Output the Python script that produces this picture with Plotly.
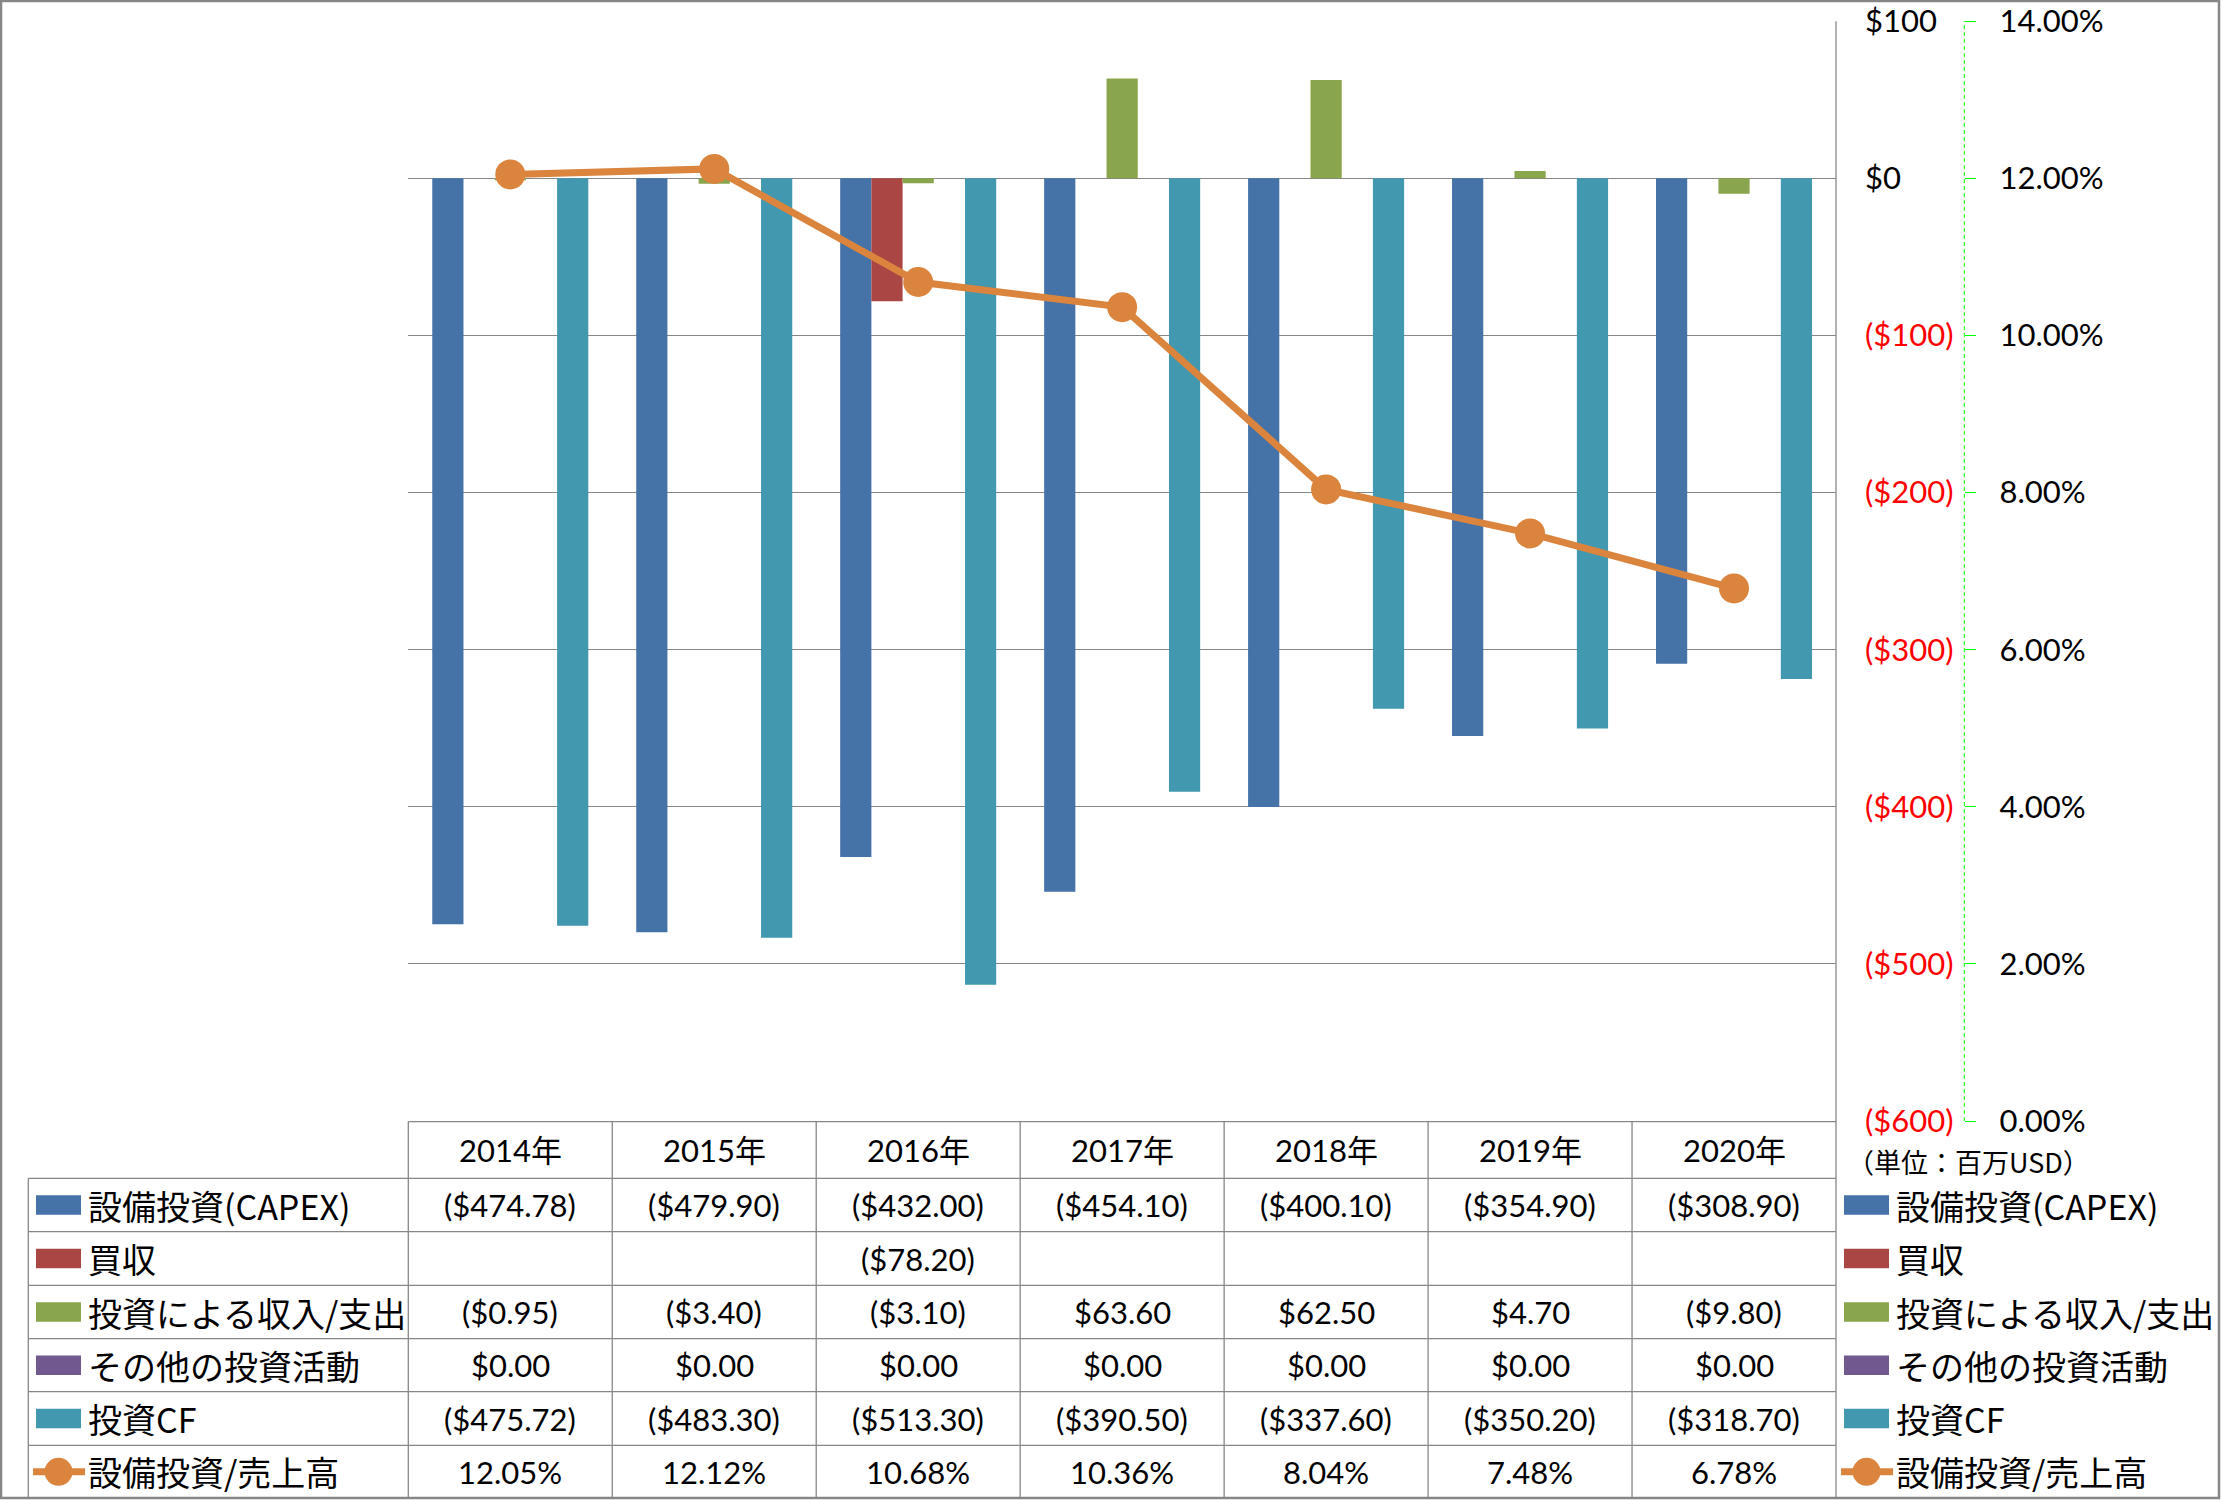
import plotly.graph_objects as go

# ---------------- data ----------------
years = ["2014年", "2015年", "2016年", "2017年", "2018年", "2019年", "2020年"]
capex = [-474.78, -479.90, -432.00, -454.10, -400.10, -354.90, -308.90]
acquisition = [None, None, -78.20, None, None, None, None]
invest_income = [-0.95, -3.40, -3.10, 63.60, 62.50, 4.70, -9.80]
other_invest = [0.00, 0.00, 0.00, 0.00, 0.00, 0.00, 0.00]
invest_cf = [-475.72, -483.30, -513.30, -390.50, -337.60, -350.20, -318.70]
capex_ratio = [12.05, 12.12, 10.68, 10.36, 8.04, 7.48, 6.78]  # percent

bar_names = ["設備投資(CAPEX)", "買収", "投資による収入/支出", "その他の投資活動", "投資CF"]
line_name = "設備投資/売上高"
usd_ticks = [100, 0, -100, -200, -300, -400, -500, -600]
pct_ticks = [0, 2, 4, 6, 8, 10, 12, 14]
unit_label = "（単位：百万USD）"

# ---------------- styles ----------------
W, H = 2221, 1500
BAR_COLORS = ["#4572A7", "#AA4643", "#89A54E", "#71588F", "#4198AF"]
LINE_COLOR = "#DB843D"
GRID = "#878787"
NUM_FONT = "Lato, 'Noto Sans CJK JP', sans-serif"
JP_FONT = "'Noto Sans CJK JP', sans-serif"
NUM_SIZE = 31
JP_SIZE = 34


def fx(px):
    return px / W


def fy(py):
    return 1 - py / H


def money(v):
    if v is None:
        return ""
    if v < 0:
        return "(${:,.2f})".format(abs(v))
    return "${:,.2f}".format(v)


def money_tick(v):
    if v < 0:
        return '<span style="color:#FF0000">(${:.0f})</span>'.format(abs(v))
    return "${:.0f}".format(v)


bar_series = [capex, acquisition, invest_income, other_invest, invest_cf]

fig = go.Figure()
for name, vals, col in zip(bar_names, bar_series, BAR_COLORS):
    fig.add_trace(go.Bar(x=years, y=vals, name=name, marker=dict(color=col, line=dict(width=0)),
                         showlegend=False))
fig.add_trace(go.Scatter(x=years, y=capex_ratio, name=line_name, yaxis="y2", mode="lines+markers",
                         line=dict(color=LINE_COLOR, width=7),
                         marker=dict(size=30, color=LINE_COLOR), showlegend=False))

# geometry (pixels)
PLOT_L, PLOT_R = 408.3, 1836.0
PLOT_T, PLOT_B = 21.2, 1121.0
AXIS_X = 1964.3
ROW_Y = [1121.7, 1178.3, 1231.7, 1285.3, 1338.7, 1391.7, 1445.3, 1498.3]
LABEL_L = 28.3

fig.update_layout(
    width=W, height=H,
    margin=dict(l=0, r=0, t=0, b=0, pad=0, autoexpand=False),
    paper_bgcolor="white", plot_bgcolor="white",
    barmode="group", bargap=0.235, bargroupgap=0,
    xaxis=dict(domain=[fx(PLOT_L), fx(PLOT_R)], showticklabels=False, showgrid=False,
               showline=False, ticks="", zeroline=False, fixedrange=True, automargin=False),
    yaxis=dict(domain=[fy(PLOT_B), fy(PLOT_T)], range=[-600, 100],
               tickvals=usd_ticks, ticktext=[money_tick(v) for v in usd_ticks],
               anchor="free", position=fx(PLOT_R), side="right", automargin=False,
               showgrid=True, gridcolor=GRID, gridwidth=1.2, zeroline=False,
               showline=False, ticks="", ticklabelstandoff=28,
               tickfont=dict(family=NUM_FONT, size=NUM_SIZE, color="black")),
    yaxis2=dict(overlaying="y", range=[0, 14], tickvals=pct_ticks,
                ticktext=["{:.2f}%".format(v) for v in pct_ticks],
                anchor="free", position=fx(AXIS_X), side="right", automargin=False,
                showgrid=False, zeroline=False, showline=False,
                ticks="outside", ticklen=11, tickwidth=1, tickcolor="#00FF00",
                ticklabelstandoff=17,
                tickfont=dict(family=NUM_FONT, size=NUM_SIZE, color="black")),
    font=dict(family=NUM_FONT, size=NUM_SIZE, color="black"),
)

shapes = []
# dashed green axis line
shapes.append(dict(type="line", xref="paper", yref="y domain", x0=fx(AXIS_X), x1=fx(AXIS_X),
                   y0=0, y1=1, line=dict(color="#00FF00", width=1, dash="4px,3px")))
# plot-area right border extending through the table
shapes.append(dict(type="line", xref="paper", yref="paper", x0=fx(PLOT_R), x1=fx(PLOT_R),
                   y0=fy(PLOT_T), y1=fy(ROW_Y[-1]), line=dict(color=GRID, width=1.3)))
# table horizontal lines
for i, yy in enumerate(ROW_Y[:-1]):
    x0 = PLOT_L if i == 0 else LABEL_L
    shapes.append(dict(type="line", xref="paper", yref="paper", x0=fx(x0), x1=fx(PLOT_R),
                       y0=fy(yy), y1=fy(yy), line=dict(color=GRID, width=1.3)))
# table vertical lines at category boundaries
n = len(years)
for k in range(n):
    shapes.append(dict(type="line", xref="x domain", yref="paper", x0=k / n, x1=k / n,
                       y0=fy(ROW_Y[0]), y1=fy(ROW_Y[-1]), line=dict(color=GRID, width=1.3)))
# label column left border
shapes.append(dict(type="line", xref="paper", yref="paper", x0=fx(LABEL_L), x1=fx(LABEL_L),
                   y0=fy(ROW_Y[1]), y1=fy(ROW_Y[-1]), line=dict(color=GRID, width=1.3)))
# outer chart border
shapes.append(dict(type="rect", xref="paper", yref="paper", x0=fx(1), x1=fx(W - 2),
                   y0=fy(H - 2), y1=fy(1), line=dict(color="#868686", width=2.5)))

annotations = []
# header row
hy = (ROW_Y[0] + ROW_Y[1]) / 2
for yr in years:
    annotations.append(dict(x=yr, xref="x", y=fy(hy), yref="paper", text=yr, showarrow=False,
                            xanchor="center", yanchor="middle",
                            font=dict(family=NUM_FONT, size=NUM_SIZE, color="black")))

rows = [(bar_names[i], bar_series[i], money, BAR_COLORS[i], "bar") for i in range(5)]
rows.append((line_name, capex_ratio, lambda v: "{:.2f}%".format(v), LINE_COLOR, "line"))

for r, (name, vals, fmt, col, kind) in enumerate(rows):
    cy = (ROW_Y[r + 1] + ROW_Y[r + 2]) / 2
    for yr, v in zip(years, vals):
        annotations.append(dict(x=yr, xref="x", y=fy(cy), yref="paper", text=fmt(v) if v is not None else "",
                                showarrow=False, xanchor="center", yanchor="middle",
                                font=dict(family=NUM_FONT, size=NUM_SIZE, color="black")))
    # legend keys (left in table, right outside)
    for (sw0, sw1, tx) in [(36, 81, 85.5), (1844, 1889, 1894)]:
        if kind == "bar":
            shapes.append(dict(type="rect", xref="paper", yref="paper", x0=fx(sw0), x1=fx(sw1),
                               y0=fy(cy + 9.7), y1=fy(cy - 9.7), fillcolor=col, line=dict(width=0)))
        else:
            shapes.append(dict(type="line", xref="paper", yref="paper", x0=fx(sw0 - 3), x1=fx(sw1 + 4),
                               y0=fy(cy), y1=fy(cy), line=dict(color=col, width=7)))
            cxm = (sw0 + sw1) / 2
            shapes.append(dict(type="circle", xref="paper", yref="paper", x0=fx(cxm - 14), x1=fx(cxm + 14),
                               y0=fy(cy + 14), y1=fy(cy - 14), fillcolor=col, line=dict(width=0)))
        annotations.append(dict(x=fx(tx), xref="paper", y=fy(cy), yref="paper", text=name,
                                showarrow=False, xanchor="left", yanchor="middle",
                                font=dict(family=JP_FONT, size=JP_SIZE, color="black")))

annotations.append(dict(x=fx(1845), xref="paper", y=fy(1161), yref="paper", text=unit_label,
                        showarrow=False, xanchor="left", yanchor="middle",
                        font=dict(family=JP_FONT, size=27, color="black")))

fig.update_layout(shapes=shapes, annotations=annotations)

fig.write_html("out.html", config={"displayModeBar": False},
               post_script="document.body.style.margin='0';document.body.style.overflow='hidden';")
